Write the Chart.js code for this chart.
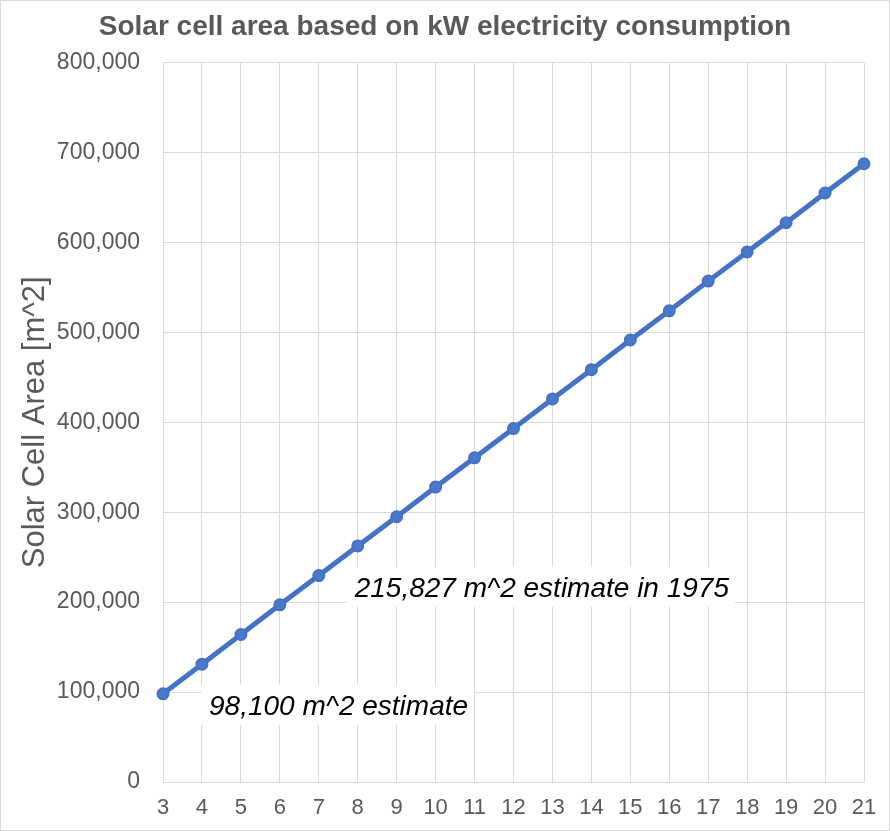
<!DOCTYPE html>
<html>
<head>
<meta charset="utf-8">
<script src="https://cdn.jsdelivr.net/npm/chart.js@4/dist/chart.umd.min.js"></script>
<style>
  body { margin: 0; background: #fff; }
  canvas { display: block; }
</style>
</head>
<body>
<canvas id="myChart" width="890" height="831"></canvas>
<script>
// kW consumption on the x axis, area in m^2 on the y axis
const kwLabels = ['3','4','5','6','7','8','9','10','11','12','13','14','15','16','17','18','19','20','21'];
const areaValues = [98100, 131000, 164000, 197000, 229500, 262500, 295000, 328000, 360500, 393000,
                    426000, 458500, 491500, 524000, 557000, 589500, 622000, 655000, 687500];
const yTicks = [0, 100000, 200000, 300000, 400000, 500000, 600000, 700000, 800000];

// text notes placed on the chart
const noteTexts = ['98,100 m^2 estimate', '215,827 m^2 estimate in 1975'];
const noteValues = [98100, 215827];
const noteIndex = [0, 5];

const gray = '#595959';
const gridColor = '#d9d9d9';
const fontFam = '"Liberation Sans", Arial, sans-serif';

const notesPlugin = {
  id: 'notes',
  beforeDraw(chart) {
    const ctx = chart.ctx;
    ctx.save();
    ctx.fillStyle = '#fff';
    ctx.fillRect(0, 0, chart.width, chart.height);
    ctx.strokeStyle = gridColor;
    ctx.lineWidth = 1;
    ctx.strokeRect(0.5, 0.5, chart.width - 1, chart.height - 1);
    ctx.restore();
  },
  afterDatasetsDraw(chart) {
    const ctx = chart.ctx;
    const xs = chart.scales.x, ys = chart.scales.y;
    ctx.save();
    ctx.font = 'italic 28px ' + fontFam;
    ctx.textBaseline = 'middle';
    noteTexts.forEach((t, i) => {
      const x = xs.getPixelForValue(noteIndex[i]) + (i === 0 ? 46 : -3);
      const y = ys.getPixelForValue(noteValues[i]) + (i === 0 ? 12 : 0);
      const w = ctx.measureText(t).width;
      ctx.fillStyle = '#fff';
      ctx.fillRect(x - 8, y - 21, w + 14, 40);
      ctx.fillStyle = '#000';
      ctx.fillText(t, x, y + 1);
    });
    ctx.restore();
  }
};

new Chart(document.getElementById('myChart'), {
  type: 'line',
  data: {
    labels: kwLabels,
    datasets: [{
      data: areaValues,
      borderColor: '#4472C4',
      backgroundColor: '#4a78cb',
      borderWidth: 5,
      pointRadius: 5.5,
      pointBorderWidth: 2,
      pointBorderColor: '#4472C4',
      tension: 0,
      fill: false
    }]
  },
  options: {
    responsive: false,
    animation: false,
    devicePixelRatio: 1,
    layout: { padding: 0 },
    plugins: {
      legend: { display: false },
      tooltip: { enabled: false },
      title: {
        display: true,
        text: 'Solar cell area based on kW electricity consumption',
        color: gray,
        font: { family: fontFam, size: 28, weight: 'bold' },
        padding: { top: 10, bottom: 19 }
      }
    },
    scales: {
      x: {
        offset: false,
        grid: { color: gridColor, drawTicks: false },
        border: { color: gridColor },
        ticks: {
          color: gray,
          padding: 13,
          maxRotation: 0,
          autoSkip: false,
          font: { family: fontFam, size: 22 }
        },
        afterFit(scale) { scale.height = 49; }
      },
      y: {
        min: 0,
        max: 800000,
        grid: { color: gridColor, drawTicks: false },
        border: { color: gridColor },
        afterBuildTicks(scale) { scale.ticks = yTicks.map(v => ({ value: v })); },
        ticks: {
          color: gray,
          padding: 23,
          font: { family: fontFam, size: 23 },
          callback: v => v.toLocaleString('en-US')
        },
        title: {
          display: true,
          text: 'Solar Cell Area [m^2]',
          color: gray,
          padding: { top: 17, bottom: 0 },
          font: { family: fontFam, size: 31 }
        },
        afterFit(scale) { scale.width = 163; }
      },
      // empty right margin so the title stays centred on the whole canvas
      yRight: {
        position: 'right',
        min: 0,
        max: 800000,
        grid: { display: false },
        border: { display: false },
        ticks: { display: false },
        afterFit(scale) { scale.width = 26; }
      }
    }
  },
  plugins: [notesPlugin]
});
</script>
</body>
</html>
